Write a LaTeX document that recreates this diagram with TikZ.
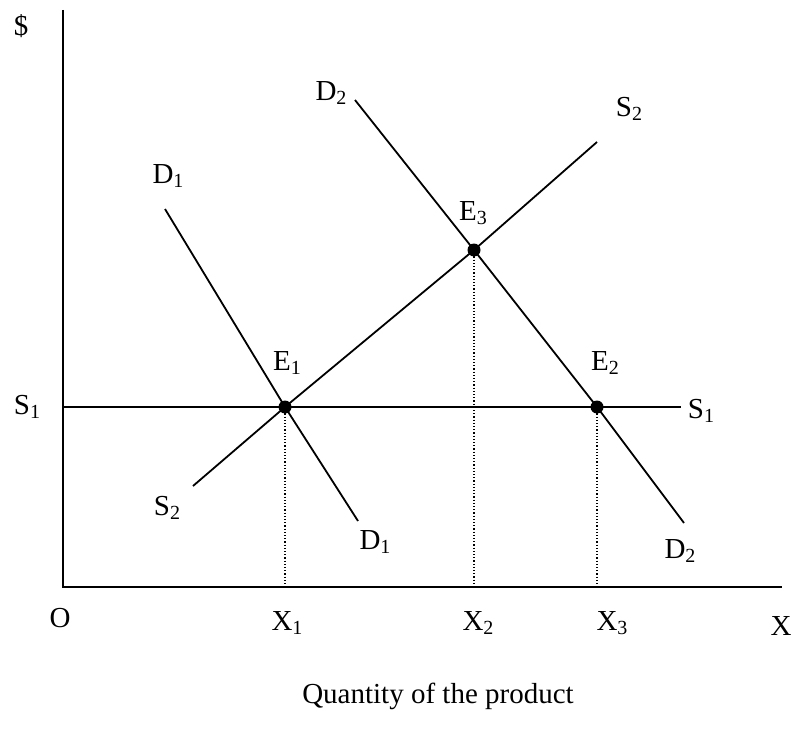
\documentclass[tikz,border=0pt]{standalone}
\usepackage{fontspec}
\setmainfont{Liberation Serif}
\newcommand{\sbs}[1]{\raisebox{-4pt}{\fontsize{20}{20}\selectfont #1}}
\begin{document}
\begin{tikzpicture}[x=1pt,y=-1pt,
  lbl/.style={anchor=base,inner sep=0pt,font=\fontsize{29}{29}\selectfont},
  axis/.style={line width=2.4pt},
  curve/.style={line width=1.8pt},
  guide/.style={dotted,line width=1.2pt},
  eqdot/.style={circle,fill=black,inner sep=0pt,minimum size=13pt}]
\useasboundingbox (0,0) rectangle (793,733);
% axes
\coordinate (O) at (63,587);
\coordinate (ytop) at (63,10);
\coordinate (xend) at (782,587);
\draw[axis] (ytop) -- (O) -- (xend);
% key points
\coordinate (E1) at (285,407);
\coordinate (E2) at (597,407);
\coordinate (E3) at (474,250);
% S1
\coordinate (s1a) at (63,407);
\coordinate (s1b) at (681,407);
\draw[curve] (s1a) -- (s1b);
% S2
\coordinate (s2a) at (193,486);
\coordinate (s2b) at (597,142);
\draw[curve] (s2a) -- (E1) -- (E3) -- (s2b);
% D1
\coordinate (d1a) at (165,209);
\coordinate (d1b) at (358,521);
\draw[curve] (d1a) -- (E1) -- (d1b);
% D2
\coordinate (d2a) at (355,100);
\coordinate (d2b) at (684,523);
\draw[curve] (d2a) -- (E3) -- (E2) -- (d2b);
% dotted guides
\draw[guide] (E1) -- (E1 |- O);
\draw[guide] (E3) -- (E3 |- O);
\draw[guide] (E2) -- (E2 |- O);
% dots
\node[eqdot] (p1) at (E1) {};
\node[eqdot] (p2) at (E2) {};
\node[eqdot] (p3) at (E3) {};
% labels
\node[lbl,anchor=center] (dol) at (21,26) {\$};
\node[lbl] (lO) at (60,627) {O};
\node[lbl] (lX1) at (287,630) {X\sbs{1}};
\node[lbl] (lX2) at (478,630) {X\sbs{2}};
\node[lbl] (lX3) at (612,630) {X\sbs{3}};
\node[lbl] (lX) at (781,635) {X};
\node[lbl] (lS1l) at (27,414) {S\sbs{1}};
\node[lbl] (lS1r) at (701,418) {S\sbs{1}};
\node[lbl] (lE1) at (287,370) {E\sbs{1}};
\node[lbl] (lE2) at (605,370) {E\sbs{2}};
\node[lbl] (lE3) at (473,220) {E\sbs{3}};
\node[lbl] (lD1t) at (168,183) {D\sbs{1}};
\node[lbl] (lS2t) at (629,117) {S\sbs{2}};
\node[lbl] (lD2t) at (331,101) {D\sbs{2}};
\node[lbl] (lS2b) at (167,515) {S\sbs{2}};
\node[lbl] (lD1b) at (375,549) {D\sbs{1}};
\node[lbl] (lD2b) at (680,558) {D\sbs{2}};
\node[lbl] (title) at (438,703) {Quantity of the product};
\end{tikzpicture}
\end{document}
